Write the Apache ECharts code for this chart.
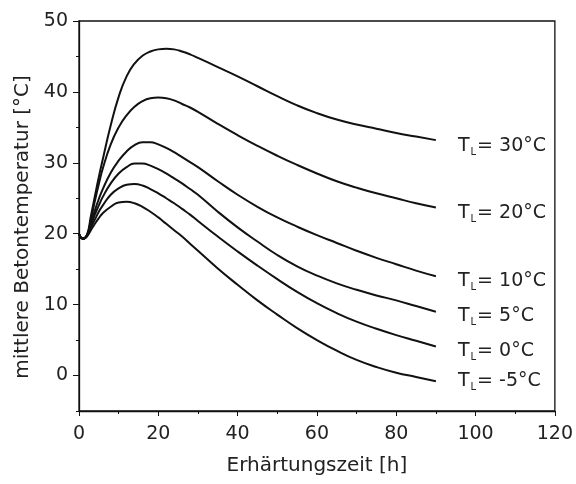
<!DOCTYPE html>
<html>
<head>
<meta charset="utf-8">
<script src="https://cdn.jsdelivr.net/npm/echarts@6/dist/echarts.min.js"></script>
<style>
  html, body { margin: 0; padding: 0; background: #fff; }
  #chart { width: 576px; height: 484px; }
</style>
</head>
<body>
<div id="chart"></div>
<script>
// Hardening time in hours
const hours = [0, 1, 2, 3, 4, 5, 6, 8, 10, 12, 14, 16, 18, 20, 22, 24, 26, 28, 30, 35, 40, 45, 50, 55, 60, 65, 70, 75, 80, 85, 90];

// Mean concrete temperature [°C] for each ambient temperature T_L
const temp30 = [20, 19.3, 19.8, 22.5, 25.3, 28, 30.5, 35.3, 39.3, 42.2, 44, 45.1, 45.7, 46, 46.1, 46, 45.7, 45.3, 44.8, 43.5, 42.2, 40.8, 39.4, 38.1, 37, 36.1, 35.4, 34.8, 34.2, 33.7, 33.2];
const temp20 = [20, 19.3, 19.7, 22, 24.6, 27, 29.2, 32.6, 35, 36.7, 37.9, 38.7, 39.1, 39.2, 39.1, 38.8, 38.3, 37.8, 37.2, 35.5, 33.9, 32.4, 31, 29.7, 28.5, 27.4, 26.5, 25.7, 25, 24.3, 23.7];
const temp10 = [20, 19.3, 19.8, 21.5, 23.3, 24.9, 26.3, 28.6, 30.3, 31.6, 32.5, 32.9, 32.9, 32.6, 32.1, 31.5, 30.8, 30.1, 29.4, 27.4, 25.5, 23.8, 22.3, 21, 19.8, 18.7, 17.6, 16.6, 15.7, 14.8, 14.0];
const temp5 = [20, 19.3, 19.8, 21.2, 22.7, 24, 25.2, 27.1, 28.5, 29.4, 29.9, 29.9, 29.6, 29.1, 28.5, 27.8, 27.1, 26.3, 25.5, 23.1, 20.9, 18.9, 17, 15.4, 14.1, 13, 12.1, 11.3, 10.6, 9.8, 9.0];
const temp0 = [20, 19.3, 19.7, 20.9, 22, 23.1, 24, 25.5, 26.4, 26.9, 27, 26.8, 26.3, 25.7, 25, 24.3, 23.5, 22.7, 21.8, 19.6, 17.5, 15.5, 13.6, 11.8, 10.2, 8.8, 7.6, 6.6, 5.7, 4.9, 4.1];
const tempM5 = [20, 19.3, 19.6, 20.5, 21.4, 22.2, 22.9, 23.8, 24.4, 24.5, 24.3, 23.8, 23.1, 22.3, 21.4, 20.5, 19.6, 18.6, 17.6, 15.1, 12.8, 10.6, 8.6, 6.7, 5, 3.5, 2.2, 1.2, 0.4, -0.2, -0.8];

// Ambient temperature labels
const ambientLabels = ['30°C', '20°C', '10°C', '5°C', '0°C', '-5°C'];
const curves = [temp30, temp20, temp10, temp5, temp0, tempM5];

// Axis tick values
const xTicks = [0, 20, 40, 60, 80, 100, 120];
const yTicks = [0, 10, 20, 30, 40, 50];

const labelShift = [6, 6, 5, 4.5, 4.5, 0];

const font = 'DejaVu Sans';
const textColor = '#222';

const series = curves.map((vals, i) => ({
  type: 'line',
  name: ambientLabels[i],
  data: hours.map((h, j) => [h, vals[j]]),
  smooth: 0.5,
  showSymbol: false,
  symbol: 'none',
  lineStyle: { color: '#111', width: 2 },
  xAxisIndex: 0,
  yAxisIndex: 0,
  animation: false,
  endLabel: {
    show: true,
    distance: 22,
    offset: [0, labelShift[i]],
    formatter: '{t|T}{s|L}{t|= ' + ambientLabels[i] + '}',
    rich: {
      t: { fontFamily: font, fontSize: 19, color: textColor, lineHeight: 22 },
      s: { fontFamily: font, fontSize: 10, color: textColor, lineHeight: 22, verticalAlign: 'bottom', padding: [0, 1, 0, 1] }
    }
  }
}));

const chart = echarts.init(document.getElementById('chart'), null, { renderer: 'canvas' });
chart.setOption({
  backgroundColor: '#fff',
  animation: false,
  grid: {
    left: 79, right: 19, top: 21, bottom: 73,
    show: true, borderColor: '#111', borderWidth: 1.3, backgroundColor: 'transparent'
  },
  xAxis: [{
    type: 'value',
    min: 0, max: 120, interval: 20,
    name: 'Erhärtungszeit [h]',
    nameLocation: 'middle',
    nameGap: 45,
    nameTextStyle: { fontFamily: font, fontSize: 20, color: textColor },
    axisLine: { show: true, onZero: false, lineStyle: { color: '#111', width: 1.3 } },
    axisTick: { show: true, length: 5, lineStyle: { color: '#111' }, customValues: xTicks },
    minorTick: { show: true, splitNumber: 2, length: 3, lineStyle: { color: '#111' } },
    axisLabel: { fontFamily: font, fontSize: 19, color: textColor, margin: 14, customValues: xTicks },
    splitLine: { show: false }
  }],
  yAxis: [{
    type: 'value',
    min: -5, max: 50,
    name: 'mittlere Betontemperatur [°C]',
    nameLocation: 'middle',
    nameGap: 46,
    nameTextStyle: { fontFamily: font, fontSize: 20, color: textColor, padding: [0, 22, 0, 0] },
    axisLine: { show: true, onZero: false, lineStyle: { color: '#111', width: 1.3 } },
    axisTick: { show: true, length: 6, lineStyle: { color: '#111' }, customValues: yTicks },
    axisLabel: { fontFamily: font, fontSize: 19, color: textColor, margin: 11, customValues: yTicks },
    splitLine: { show: false }
  }, {
    // minor ticks every 5 °C
    type: 'value',
    position: 'left',
    min: -5, max: 50, interval: 5,
    axisLine: { show: false },
    axisTick: { show: true, length: 3, lineStyle: { color: '#111' } },
    axisLabel: { show: false },
    splitLine: { show: false }
  }],
  series: series
});
</script>
</body>
</html>
